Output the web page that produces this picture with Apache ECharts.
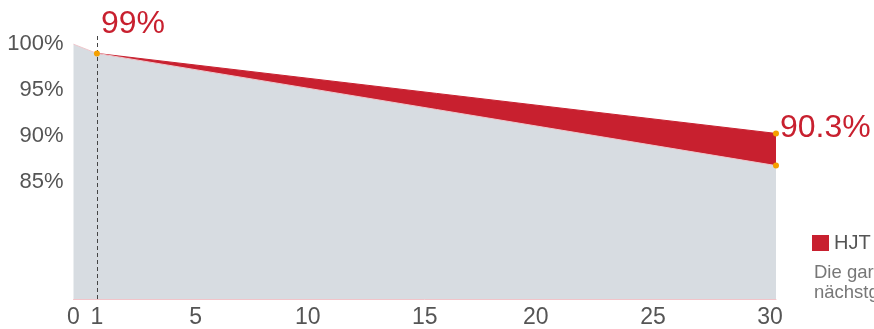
<!DOCTYPE html>
<html>
<head>
<meta charset="utf-8">
<script src="https://cdn.jsdelivr.net/npm/echarts@6/dist/echarts.min.js"></script>
<style>
  html, body { margin: 0; padding: 0; background: #fff; }
  #chart { width: 874px; height: 329px; }
</style>
</head>
<body>
<div id="chart"></div>
<script>
// Leistung in % über die Jahre
var years = [0, 1, 30];
var baseValues = [100, 99, 86.8];   // untere Kurve (graue Fläche)
var hjtYears = [1, 30];
var hjtValues = [99, 90.3];         // obere Kurve (HJT)
var dotPoints = [[1, 99], [30, 90.3], [30, 86.8]];
var dotLabels = ['99%', '90.3%', ''];
var xTickLabels = [0, 1, 5, 10, 15, 20, 25, 30];
var yTickLabels = [85, 90, 95, 100];
var noteLines = ['Die garantierte Leistung des', 'nächstgelegenen Wettbewerbers'];

var red = '#c8202f';
var grey = '#d7dce1';
var orange = '#f5a000';
var fontFam = 'Liberation Sans, Arial, sans-serif';

// kleine Verschiebungen einzelner x-Beschriftungen (wie im Original)
var nudge = { 5: 10, 20: -6, 25: -6, 30: -12 };

var chart = echarts.init(document.getElementById('chart'));

var option = {
    backgroundColor: '#fff',
    animation: false,
    textStyle: { fontFamily: fontFam },
    grid: { left: 73.5, right: 98, top: 35, bottom: 27 },
    legend: {
        data: [{ name: 'HJT', icon: 'rect' }],
        left: 812, top: 233, padding: 0,
        itemWidth: 17, itemHeight: 16,
        textStyle: { color: '#555', fontSize: 20 }
    },
    xAxis: {
        type: 'value', min: 0, max: 30,
        splitLine: { show: false },
        axisTick: { show: false },
        axisLine: { show: true, lineStyle: { color: '#f2c4c9', width: 1 } },
        axisLabel: {
            customValues: xTickLabels,
            color: '#555', fontSize: 23, margin: 7,
            formatter: function (v) {
                var n = nudge[v];
                if (!n) return '' + v;
                return n > 0 ? '{l|' + v + '}' : '{r|' + v + '}';
            },
            rich: {
                l: { color: '#555', fontSize: 23, padding: [0, 0, 0, 10] },
                r: { color: '#555', fontSize: 23, padding: [0, 12, 0, 0] }
            }
        }
    },
    yAxis: {
        type: 'value', min: 72.3, max: 101,
        splitLine: { show: false },
        axisTick: { show: false },
        axisLine: { show: false },
        axisLabel: {
            customValues: yTickLabels,
            color: '#555', fontSize: 22, margin: 10,
            padding: [0, 0, 5, 0],
            formatter: function (v) { return v + '%'; }
        }
    },
    graphic: noteLines.map(function (t, i) {
        return {
            type: 'text', left: 814, top: 263 + i * 20,
            style: { text: t, fill: '#777', fontSize: 18.5, fontFamily: fontFam }
        };
    }),
    series: [
        {
            name: 'HJT', type: 'line', z: 1,
            data: hjtYears.map(function (x, i) { return [x, hjtValues[i]]; }),
            symbol: 'none',
            itemStyle: { color: red },
            lineStyle: { color: red, width: 1 },
            areaStyle: { color: red, opacity: 1 }
        },
        {
            name: 'Basis', type: 'line', z: 2,
            data: years.map(function (x, i) { return [x, baseValues[i]]; }),
            symbol: 'none',
            lineStyle: { color: '#efc6cb', width: 1 },
            areaStyle: { color: grey, opacity: 1 },
            markLine: {
                silent: true, symbol: 'none', label: { show: false },
                lineStyle: { color: '#444', type: [4, 3], width: 1 },
                data: [{ xAxis: 1 }]
            }
        },
        {
            name: 'Punkte', type: 'scatter', z: 5,
            data: dotPoints,
            symbolSize: 6,
            itemStyle: { color: orange, opacity: 1 },
            label: {
                show: true, position: 'right', distance: 1,
                color: red, fontSize: 32,
                formatter: function (p) { return dotLabels[p.dataIndex]; }
            },
            labelLayout: function (p) {
                return p.dataIndex === 0 ? { dy: -29 } : { dy: -5 };
            }
        }
    ]
};
chart.setOption(option);
</script>
</body>
</html>
